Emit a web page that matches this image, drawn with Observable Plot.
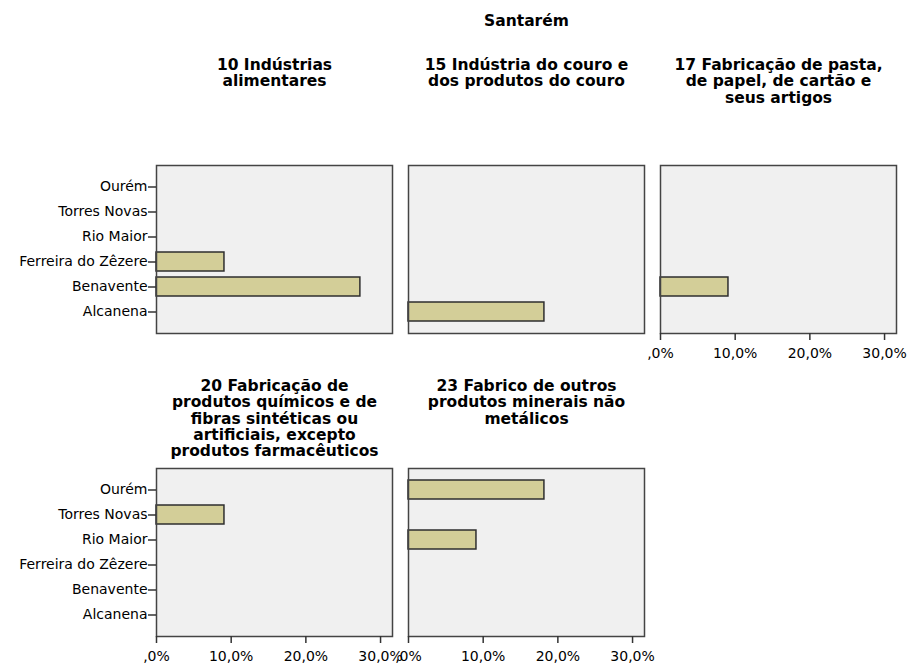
<!DOCTYPE html>
<html>
<head>
<meta charset="utf-8">
<script src="https://cdn.jsdelivr.net/npm/d3@7"></script>
<script src="https://cdn.jsdelivr.net/npm/@observablehq/plot@0.6"></script>
<style>
  html, body { margin: 0; padding: 0; background: #fff; }
</style>
</head>
<body>
<div id="chart"></div>
<script>
// Category order, top to bottom
const municipios = ["Ourém", "Torres Novas", "Rio Maior", "Ferreira do Zêzere", "Benavente", "Alcanena"];

// Panels (industries)
const industrias = [
  "10 Indústrias\nalimentares",
  "15 Indústria do couro e\ndos produtos do couro",
  "17 Fabricação de pasta,\nde papel, de cartão e\nseus artigos",
  "20 Fabricação de\nprodutos químicos e de\nfibras sintéticas ou\nartificiais, excepto\nprodutos farmacêuticos",
  "23 Fabrico de outros\nprodutos minerais não\nmetálicos"
];
const industriaCol = [0, 1, 2, 0, 1];
const industriaRow = [0, 0, 0, 1, 1];

// Bars (percent of cases)
const barIndustria = [0, 0, 1, 2, 3, 4, 4];
const barMunicipio = ["Ferreira do Zêzere", "Benavente", "Alcanena", "Benavente", "Torres Novas", "Ourém", "Rio Maior"];
const barPercent   = [9.1, 27.3, 18.2, 9.1, 9.1, 18.2, 9.1];

const xTicks = [0, 10, 20, 30];
const tituloGeral = "Santarém";

const bars = barPercent.map((v, i) => ({
  pct: v,
  mun: barMunicipio[i],
  col: industriaCol[barIndustria[i]],
  row: industriaRow[barIndustria[i]]
}));
const titles = industrias.map((t, i) => ({label: t, col: industriaCol[i], row: industriaRow[i]}));

const fmt = v => v === 0 ? ",0%" : v.toFixed(1).replace(".", ",") + "%";
const titleFont = "'DejaVu Sans', sans-serif";

const chart = Plot.plot({
  width: 907,
  height: 665,
  marginTop: 165,
  marginBottom: 28,
  marginLeft: 155,
  marginRight: 11,
  style: {fontFamily: "'DejaVu Sans', sans-serif", fontSize: "14px", color: "#000", background: "#fff"},
  fx: {axis: null, domain: [0, 1, 2], paddingInner: 0.0635, paddingOuter: 0},
  fy: {axis: null, domain: [0, 1], paddingInner: 0.444, paddingOuter: 0},
  x: {domain: [0, 31.6]},
  y: {domain: municipios, paddingInner: 0.255, paddingOuter: 0.42},
  marks: [
    Plot.frame({fill: "#f0f0f0"}),
    Plot.barX(bars, {x: "pct", y: "mun", fx: "col", fy: "row", fill: "#d3ce98", stroke: "#2e2e2e", strokeWidth: 1.5}),
    Plot.frame({stroke: "#444", strokeWidth: 1.5}),
    Plot.axisY({facetAnchor: "left", tickSize: 8, tickPadding: 1, stroke: "#333", strokeWidth: 1.5, label: null}),
    Plot.axisX({facetAnchor: "bottom-empty", ticks: xTicks, tickFormat: fmt, tickSize: 7, tickPadding: 8, stroke: "#333", strokeWidth: 1.5, label: null}),
    Plot.text(titles.filter(d => d.row === 0), {fx: "col", fy: "row", text: "label", frameAnchor: "top", lineAnchor: "top", dy: -107, fontFamily: titleFont, fontWeight: "bold", fontSize: 15.5, lineHeight: 1.05, fill: "#000"}),
    Plot.text(titles.filter(d => d.row === 1), {fx: "col", fy: "row", text: "label", frameAnchor: "top", lineAnchor: "top", dy: -89, fontFamily: titleFont, fontWeight: "bold", fontSize: 15.5, lineHeight: 1.05, fill: "#000"}),
    Plot.text([tituloGeral], {facet: "super", frameAnchor: "top", lineAnchor: "middle", dy: -144, fontFamily: titleFont, fontWeight: "bold", fontSize: 15.5, fill: "#000"})
  ]
});
document.getElementById("chart").appendChild(chart);
</script>
</body>
</html>
